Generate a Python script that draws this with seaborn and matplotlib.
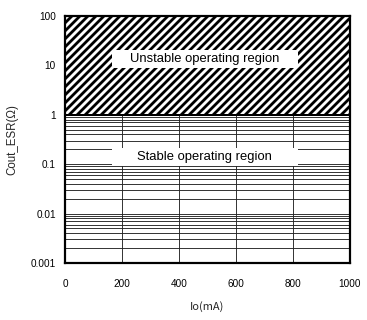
import matplotlib
matplotlib.use("Agg")
import matplotlib.pyplot as plt
from matplotlib.patches import Rectangle
from matplotlib.ticker import LogLocator, NullFormatter, FixedLocator, FixedFormatter
import seaborn as sns
import pandas as pd

# ---- data ----
x_ticks = [0, 200, 400, 600, 800, 1000]
y_ticks = [0.001, 0.01, 0.1, 1, 10, 100]
y_tick_labels = ["0.001", "0.01", "0.1", "1", "10", "100"]
boundary_esr = [1, 1]
boundary_io = [0, 1000]
unstable_top = 100
stable_gap = [0.1, 0.2]
unstable_label = "Unstable operating region"
stable_label = "Stable operating region"
x_label = "Io(mA)"
y_label = "Cout_ESR(Ω)"

sns.set_theme(style="white")
plt.rcParams['font.family'] = ['Liberation Sans', 'DejaVu Sans']
plt.rcParams['hatch.linewidth'] = 2.8
plt.rcParams['hatch.color'] = 'black'

DPI = 72
fig = plt.figure(figsize=(367 / DPI, 320 / DPI), dpi=DPI)
ax = fig.add_axes([65 / 367, 1 - 263 / 320, 285 / 367, 247 / 320])
ax.set_yscale('log')
ax.set_xlim(boundary_io[0], boundary_io[1])
ax.set_ylim(y_ticks[0], y_ticks[-1])

# horizontal grid (major + minor) in the stable region
ax.yaxis.set_minor_locator(LogLocator(base=10, subs=range(2, 10)))
ax.yaxis.set_minor_formatter(NullFormatter())
ax.grid(axis='y', which='both', color='#222222', linewidth=0.9, zorder=1)
ax.grid(axis='x', visible=False)

# vertical grid lines, broken in the label band
ax.vlines(x_ticks[1:-1], y_ticks[0], stable_gap[0], color='#222222', linewidth=0.9, zorder=1)
ax.vlines(x_ticks[1:-1], stable_gap[1], boundary_esr[0], color='#222222', linewidth=0.9, zorder=1)

# hatched unstable region
ax.fill_between(boundary_io, boundary_esr, [unstable_top, unstable_top], facecolor='white',
                edgecolor='black', hatch='///', linewidth=0, zorder=2)

# boundary line
df = pd.DataFrame({"Io": boundary_io, "ESR": boundary_esr})
sns.lineplot(data=df, x="Io", y="ESR", ax=ax, color='black', linewidth=2, zorder=3)

# label boxes
ax.add_patch(Rectangle((0.165, 0.789), 0.653, 0.073, transform=ax.transAxes,
                       facecolor='white', edgecolor='none', zorder=4))
ax.add_patch(Rectangle((0.165, 0.393), 0.653, 0.073, transform=ax.transAxes,
                       facecolor='white', edgecolor='none', zorder=4))
ax.text(0.49, 0.826, unstable_label, transform=ax.transAxes, ha='center', va='center',
        fontsize=13, color='black', zorder=5)
ax.text(0.49, 0.428, stable_label, transform=ax.transAxes, ha='center', va='center',
        fontsize=13, color='black', zorder=5)

ax.yaxis.set_major_locator(FixedLocator(y_ticks))
ax.yaxis.set_major_formatter(FixedFormatter(y_tick_labels))
ax.set_xticks(x_ticks)
ax.set_xticklabels([str(v) for v in x_ticks])
ax.tick_params(axis='both', which='both', length=0, labelsize=10, colors='black')
ax.tick_params(axis='x', pad=16)
ax.tick_params(axis='y', pad=9)

ax.set_xlabel(x_label, fontsize=11, labelpad=12, family=['Noto Sans CJK JP', 'DejaVu Sans'])
ax.set_ylabel(y_label, fontsize=11.5, labelpad=12, family=['Liberation Sans', 'DejaVu Sans'])

for s in ax.spines.values():
    s.set_visible(True)
    s.set_color('black')
    s.set_linewidth(2.2)
    s.set_zorder(6)

fig.savefig("out.png", dpi=DPI, facecolor='white')
